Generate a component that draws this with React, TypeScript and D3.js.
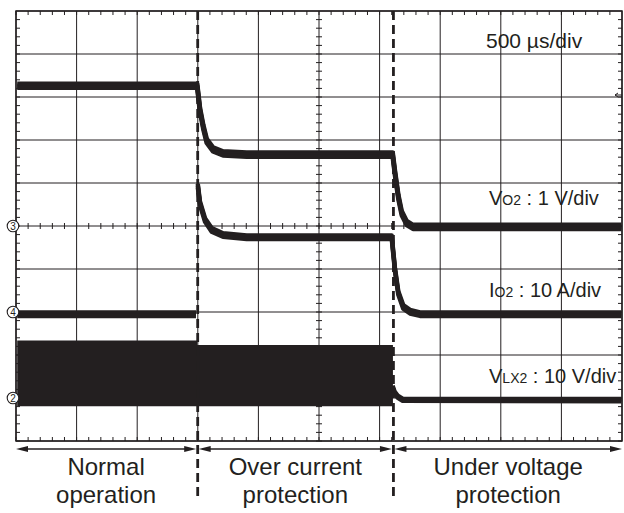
import React from "react";
import * as d3 from "d3";

// ---- data (time in divisions, 500 µs/div) ----
const phaseNames = [["Normal", "operation"], ["Over current", "protection"], ["Under voltage", "protection"]];
const phaseBounds = [0, 2.99, 6.22, 10];

// VO2 (1 V/div, ground at channel 3 marker)
const vo2T = [0.02, 2.99, 3.036, 3.091, 3.147, 3.251, 3.416, 3.807, 6.2, 6.216, 6.254, 6.309, 6.365, 6.447, 6.551, 6.7, 9.99];
const vo2V = [3.26, 3.26, 2.7, 2.3, 1.98, 1.78, 1.69, 1.66, 1.66, 1.66, 1.23, 0.68, 0.3, 0.07, -0.02, -0.02, -0.02];

// IO2 (10 A/div, ground at channel 4 marker) — before and after the OCP step
const io2PreT = [0.02, 2.97];
const io2PreA = [-0.5, -0.5];
const io2PostT = [3.0, 3.036, 3.119, 3.229, 3.416, 3.807, 6.2, 6.254, 6.309, 6.39, 6.502, 6.667, 9.99];
const io2PostA = [29.4, 25.3, 21.4, 19.1, 17.9, 17.4, 17.4, 9.8, 4.4, 1.2, 0.07, -0.5, -0.5];

// VLX2 (10 V/div, ground at channel 2 marker): switching band, then settled line
const bandT = [0.02, 2.99, 6.22];
const bandTop = [13.4, 12.3, 12.3];
const bandBottom = [-1.9, -1.9, -1.9];
const vlxTailT = [6.216, 6.25, 6.3, 6.38, 9.99];
const vlxTailV = [2.6, 1.2, 0.3, -0.4, -0.5];

const channels = [
  { id: "3", offset: 0, perDiv: 1 },
  { id: "4", offset: -2, perDiv: 10 },
  { id: "2", offset: -4, perDiv: 10 },
];

const INK = "#231f20";
const FONT = "'Liberation Sans', Arial, Helvetica, sans-serif";

export default function App() {
  const W = 624, H = 513;
  const xs = d3.scaleLinear().domain([0, 10]).range([16, 622]);
  const ys = d3.scaleLinear().domain([-5, 5]).range([441, 11]);

  const chY = (ch: number, v: number) => ys(channels[ch].offset + v / channels[ch].perDiv);

  const line = d3.line<[number, number]>().x(d => d[0]).y(d => d[1]);
  const vo2Path = line(vo2T.map((t, i) => [xs(t), chY(0, vo2V[i])]))!;
  const io2PrePath = line(io2PreT.map((t, i) => [xs(t), chY(1, io2PreA[i])]))!;
  const io2PostPath = line(io2PostT.map((t, i) => [xs(t), chY(1, io2PostA[i])]))!;
  const tailPath = line(vlxTailT.map((t, i) => [xs(t), chY(2, vlxTailV[i])]))!;
  const band = d3.area<number>()
    .x((_, i) => xs(bandT[i]))
    .y0((_, i) => chY(2, bandBottom[i]))
    .y1((_, i) => chY(2, bandTop[i]))
    .curve(d3.curveStepAfter);
  const bandPath = band(bandT)!;

  const majorX = d3.range(0, 11);
  const majorY = d3.range(-5, 6);
  const minorX = d3.range(0, 50).map(i => i * 0.2);
  const minorY = d3.range(0, 50).map(i => -5 + i * 0.2);

  const x0 = xs(0), x1 = xs(10), y0 = ys(5), y1 = ys(-5);
  const cx = xs(5), cy = ys(0);

  const thickTrace = (d: string, w = 4.6, spread = 2) => (
    <g fill="none" stroke={INK} strokeWidth={w} strokeLinejoin="round">
      <path d={d} transform={`translate(0,${-spread})`} />
      <path d={d} />
      <path d={d} transform={`translate(0,${spread})`} />
    </g>
  );

  const arrowY = 449;
  const arrowHead = (x: number, dir: number) =>
    `M${x},${arrowY} L${x + dir * 12},${arrowY - 3} L${x + dir * 12},${arrowY + 3} Z`;

  return (
    <svg width={W} height={H} style={{ position: "absolute", left: 0, top: 0, background: "#fff" }} fontFamily={FONT}>
      <rect width={W} height={H} fill="#fff" />
      {/* grid */}
      <g stroke={INK} strokeWidth={1}>
        {majorX.map(d => <line key={"gx" + d} x1={xs(d)} x2={xs(d)} y1={y0} y2={y1} />)}
        {majorY.map(d => <line key={"gy" + d} x1={x0} x2={x1} y1={ys(d)} y2={ys(d)} />)}
        {minorX.map((d, i) => (
          <g key={"mx" + i}>
            <line x1={xs(d)} x2={xs(d)} y1={y0} y2={y0 + 4} />
            <line x1={xs(d)} x2={xs(d)} y1={y1} y2={y1 - 4} />
            <line x1={xs(d)} x2={xs(d)} y1={cy - 3} y2={cy + 3} />
          </g>
        ))}
        {minorY.map((d, i) => (
          <g key={"my" + i}>
            <line x1={x0} x2={x0 + 4} y1={ys(d)} y2={ys(d)} />
            <line x1={x1} x2={x1 - 4} y1={ys(d)} y2={ys(d)} />
            <line x1={cx - 3} x2={cx + 3} y1={ys(d)} y2={ys(d)} />
          </g>
        ))}
      </g>
      <rect x={x0} y={y0} width={x1 - x0} height={y1 - y0} fill="none" stroke={INK} strokeWidth={1.5} />
      {/* trigger level mark */}
      <path d={`M${x1 - 7},95 L${x1},95 M${x1 - 7},95 L${x1 - 4},93 M${x1 - 7},95 L${x1 - 4},97`} stroke={INK} strokeWidth={1} fill="none" />

      {/* VLX2 */}
      <path d={bandPath} fill={INK} />
      {thickTrace(tailPath, 4.2, 1.2)}
      {/* VO2 & IO2 */}
      {thickTrace(vo2Path)}
      {thickTrace(io2PrePath, 4.4, 1.8)}
      {thickTrace(io2PostPath, 4.4, 1.8)}

      {/* phase boundaries */}
      {phaseBounds.slice(1, 3).map((b, i) => (
        <line key={"pb" + i} x1={xs(b) + 0.5} x2={xs(b) + 0.5} y1={y0} y2={500}
          stroke={INK} strokeWidth={2.8} strokeDasharray="9,5" />
      ))}

      {/* arrows */}
      {phaseNames.map((p, i) => {
        const a = xs(phaseBounds[i]) + (i === 0 ? 0 : 1.5);
        const b = xs(phaseBounds[i + 1]) - (i === 2 ? 0 : 1);
        const mid = (a + b) / 2;
        return (
          <g key={"ph" + i}>
            <line x1={a + 4} x2={b - 4} y1={arrowY} y2={arrowY} stroke={INK} strokeWidth={1.3} />
            <path d={arrowHead(a, 1)} fill={INK} />
            <path d={arrowHead(b, -1)} fill={INK} />
            <text x={mid} y={475} textAnchor="middle" fontSize={24} fill={INK}>{p[0]}</text>
            <text x={mid} y={503} textAnchor="middle" fontSize={24} fill={INK}>{p[1]}</text>
          </g>
        );
      })}

      {/* channel markers */}
      {channels.map(c => (
        <g key={"c" + c.id}>
          <circle cx={13} cy={ys(c.offset)} r={5.8} fill="#fff" stroke={INK} strokeWidth={1.1} />
          <text x={13} y={ys(c.offset) + 3.6} fontSize={10} textAnchor="middle" fill={INK}>{c.id}</text>
        </g>
      ))}

      {/* scale labels */}
      <text x={486} y={48} fontSize={21} fill={INK}>500 µs/div</text>
      <text x={489} y={205} fontSize={20} fill={INK}>V<tspan fontSize={14}>O2</tspan> : 1 V/div</text>
      <text x={489} y={297} fontSize={20} fill={INK}>I<tspan fontSize={14}>O2</tspan> : 10 A/div</text>
      <text x={489} y={383} fontSize={20} fill={INK}>V<tspan fontSize={14}>LX2</tspan> : 10 V/div</text>
    </svg>
  );
}
